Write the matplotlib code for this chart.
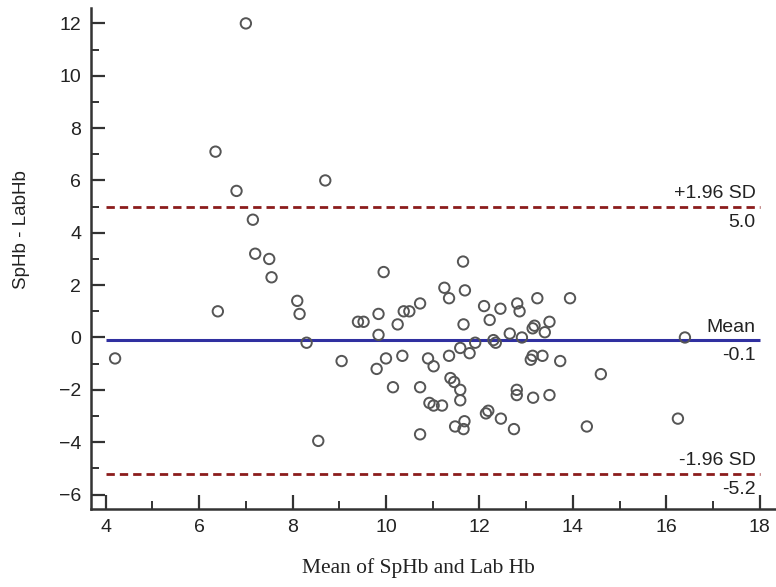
import matplotlib
import matplotlib.ticker as ticker
import matplotlib.pyplot as plot

# mean of the two methods (x) and their difference (y)
mean_hb = [
    4.2, 6.35, 6.4, 6.8, 7.0, 7.15, 7.2, 7.5, 7.55, 8.1,
    8.15, 8.3, 8.55, 8.7, 9.05, 9.4, 9.52, 9.8, 9.84, 9.84,
    9.95, 10.0, 10.15, 10.25, 10.35, 10.38, 10.5, 10.73, 10.73, 10.73,
    10.9, 10.93, 11.02, 11.02, 11.2, 11.25, 11.35, 11.35, 11.38, 11.46,
    11.48, 11.59, 11.59, 11.59, 11.65, 11.66, 11.68, 11.66, 11.69, 11.79,
    11.91, 12.1, 12.14, 12.19, 12.22, 12.3, 12.35, 12.45, 12.46, 12.65,
    12.74, 12.8, 12.8, 12.81, 12.86, 12.91, 13.1, 13.14, 13.15, 13.14,
    13.24, 13.35, 13.4, 13.5, 13.5, 13.73, 13.94, 14.3, 14.6, 16.25,
    16.4, 13.18,
]
diff_hb = [
    -0.8, 7.1, 1.0, 5.6, 12.0, 4.5, 3.2, 3.0, 2.3, 1.4,
    0.9, -0.2, -3.95, 6.0, -0.9, 0.6, 0.6, -1.2, 0.9, 0.1,
    2.5, -0.8, -1.9, 0.5, -0.7, 1.0, 1.0, 1.3, -1.9, -3.7,
    -0.8, -2.5, -1.1, -2.6, -2.6, 1.9, 1.5, -0.7, -1.55, -1.7,
    -3.4, -0.4, -2.0, -2.4, 2.9, 0.5, -3.2, -3.5, 1.8, -0.6,
    -0.2, 1.2, -2.9, -2.8, 0.67, -0.1, -0.2, 1.1, -3.1, 0.15,
    -3.5, -2.0, -2.2, 1.3, 1.0, 0.0, -0.85, -0.7, -2.3, 0.35,
    1.5, -0.7, 0.2, 0.6, -2.2, -0.9, 1.5, -3.4, -1.4, -3.1,
    0.0, 0.45,
]

bias = -0.1
upper_loa = 5.0
lower_loa = -5.2


def draw():
    matplotlib.rcParams['font.family'] = ['Liberation Sans', 'DejaVu Sans']
    figure = plot.figure(figsize=(7.76, 5.87), dpi=100)
    axes = figure.add_axes([0.117, 0.133, 0.883, 0.853])

    axes.scatter(mean_hb, diff_hb, s=56, facecolors='none', edgecolors='#555555',
                 linewidths=1.4, zorder=3)

    axes.hlines(bias, 4, 18, colors='#3030a0', linewidth=2.2, zorder=2)
    for level in (upper_loa, lower_loa):
        axes.hlines(level, 4, 18, colors='#8b1c1c', linewidth=2.0,
                    linestyles=(0, (3, 1.8)), zorder=2)

    labels = [("+1.96 SD", upper_loa), ("Mean", bias), ("-1.96 SD", lower_loa)]
    for text, level in labels:
        axes.annotate(text, xy=(18, level), xytext=(-3, 3), textcoords='offset points',
                      ha='right', va='bottom', fontsize=14, color='#222222')
        axes.annotate("%.1f" % level, xy=(18, level), xytext=(-3, -5),
                      textcoords='offset points', ha='right', va='top',
                      fontsize=14, color='#222222')

    axes.set_xlim(3.68, 18.35)
    axes.set_ylim(-6.55, 12.58)

    axes.xaxis.set_major_locator(ticker.MultipleLocator(2))
    axes.xaxis.set_minor_locator(ticker.MultipleLocator(1))
    axes.yaxis.set_major_locator(ticker.MultipleLocator(2))
    axes.yaxis.set_minor_locator(ticker.MultipleLocator(1))

    for side in ("top", "right"):
        axes.spines[side].set_visible(False)
    for side in ("left", "bottom"):
        axes.spines[side].set_linewidth(1.8)
        axes.spines[side].set_color('#333333')

    axes.tick_params(which='major', direction='in', length=10, width=1.6,
                     color='#333333', labelsize=14, labelcolor='#222222', pad=7)
    axes.tick_params(which='minor', direction='in', length=6, width=1.4, color='#333333')

    figure.text(0.028, 1 - 230 / 587, "SpHb - LabHb", rotation=90, ha='center',
                va='center', fontsize=13.5, color='#222222')
    figure.text(418 / 776, 1 - 568 / 587, "Mean of SpHb and Lab Hb", ha='center',
                va='center', fontsize=15.5, color='#222222',
                family=['Liberation Serif', 'DejaVu Serif'])

    return figure


def main():
    figure = draw()
    figure.savefig("out.png", dpi=100)


if __name__ == "__main__":
    main()
